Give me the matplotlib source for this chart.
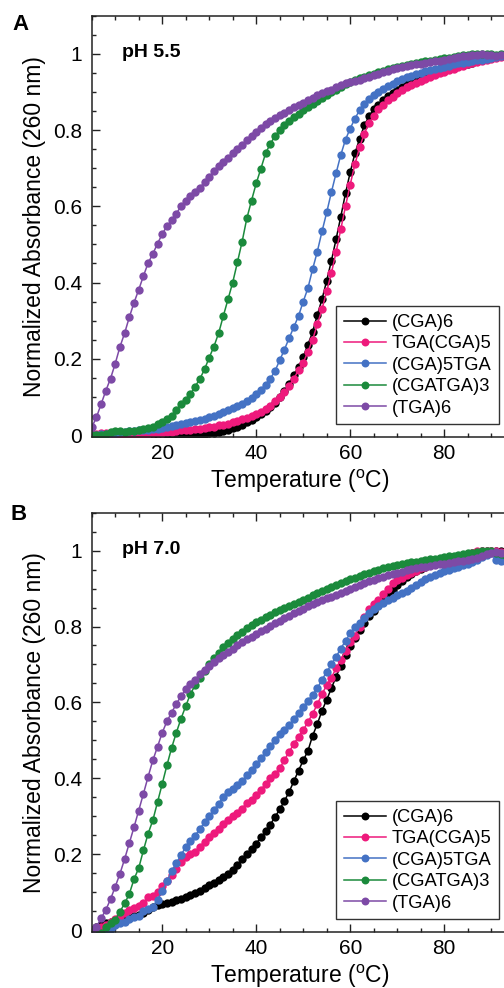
import numpy as np
import matplotlib
matplotlib.use("Agg")
import matplotlib.pyplot as plt
from matplotlib.ticker import MultipleLocator, FuncFormatter

plt.rcParams['font.family'] = ['Liberation Sans', 'DejaVu Sans']
plt.rcParams['mathtext.fontset'] = 'custom'
plt.rcParams['mathtext.rm'] = 'Liberation Sans'

nan = np.nan

# Temperatures (deg C), one reading per degree
temps = list(range(5, 96))

series_names = ["(CGA)6", "TGA(CGA)5", "(CGA)5TGA", "(CGATGA)3", "(TGA)6"]
series_colors = ["#000000", "#ee1a7c", "#4472c4", "#1b8a3c", "#7d4aa6"]
panel_letters = ["A", "B"]
panel_titles = ["pH 5.5", "pH 7.0"]
x_ticks = [20, 40, 60, 80]
y_ticks = [0, 0.2, 0.4, 0.6, 0.8, 1.0]

# ---- pH 5.5 ----
a_cga6 = [nan, nan, nan, nan, nan, nan, nan, nan, nan, nan,
          -0.002, -0.003, -0.004, -0.004, -0.004, -0.004, -0.004, -0.003, -0.003, -0.002,
          -0.001, 0.0, 0.001, 0.002, 0.003, 0.004, 0.006, 0.008, 0.011, 0.014,
          0.018, 0.022, 0.027, 0.033, 0.039, 0.046, 0.054, 0.063, 0.073, 0.085,
          0.100, 0.116, 0.135, 0.158, 0.178, 0.205, 0.237, 0.270, 0.315, 0.356,
          0.405, 0.457, 0.514, 0.573, 0.634, 0.689, 0.739, 0.777, 0.812, 0.836,
          0.854, 0.867, 0.879, 0.889, 0.898, 0.906, 0.913, 0.920, 0.926, 0.932,
          0.937, 0.942, 0.946, 0.950, 0.954, 0.958, 0.962, 0.965, 0.968, 0.971,
          0.974, 0.977, 0.980, 0.983, 0.986, 0.989, 0.992, 0.994, 0.996, 0.998,
          1.0]
a_tga_cga5 = [0.002, 0.003, 0.004, 0.004, 0.003, 0.002, 0.001, 0.0, 0.0, 0.0,
              0.001, 0.002, 0.003, 0.004, 0.005, 0.006, 0.008, 0.009, 0.011, 0.012,
              0.013, 0.014, 0.015, 0.016, 0.018, 0.020, 0.022, 0.025, 0.027, 0.030,
              0.033, 0.037, 0.041, 0.045, 0.049, 0.054, 0.060, 0.068, 0.077, 0.088,
              0.100, 0.112, 0.128, 0.148, 0.170, 0.190, 0.218, 0.250, 0.290, 0.330,
              0.377, 0.425, 0.480, 0.540, 0.600, 0.657, 0.710, 0.755, 0.790, 0.818,
              0.838, 0.854, 0.867, 0.878, 0.888, 0.897, 0.905, 0.912, 0.918, 0.924,
              0.930, 0.935, 0.940, 0.945, 0.949, 0.953, 0.957, 0.961, 0.965, 0.968,
              0.972, 0.975, 0.978, 0.981, 0.984, 0.987, 0.990, 0.992, 0.995, 0.997,
              1.0]
a_cga5_tga = [0.0, 0.0, 0.002, 0.003, 0.005, 0.006, 0.008, 0.009, 0.010, 0.011,
              0.012, 0.013, 0.014, 0.015, 0.017, 0.019, 0.021, 0.023, 0.025, 0.028,
              0.031, 0.034, 0.037, 0.040, 0.043, 0.047, 0.051, 0.056, 0.060, 0.065,
              0.070, 0.075, 0.081, 0.088, 0.097, 0.108, 0.119, 0.132, 0.148, 0.168,
              0.196, 0.224, 0.254, 0.283, 0.312, 0.350, 0.385, 0.435, 0.481, 0.534,
              0.584, 0.637, 0.687, 0.735, 0.775, 0.804, 0.830, 0.852, 0.868, 0.881,
              0.892, 0.901, 0.909, 0.916, 0.922, 0.928, 0.933, 0.938, 0.942, 0.946,
              0.950, 0.954, 0.957, 0.960, 0.963, 0.966, 0.969, 0.972, 0.975, 0.977,
              0.979, 0.981, 0.983, 0.985, 0.987, 0.989, 0.991, 0.993, 0.995, 0.997,
              0.999]
a_cgatga3 = [0.0, 0.0, 0.0, 0.002, 0.008, 0.010, 0.010, 0.009, 0.010, 0.010,
             0.012, 0.015, 0.018, 0.022, 0.028, 0.034, 0.041, 0.051, 0.066, 0.081,
             0.092, 0.107, 0.127, 0.147, 0.172, 0.203, 0.232, 0.267, 0.312, 0.356,
             0.400, 0.453, 0.507, 0.568, 0.615, 0.660, 0.699, 0.739, 0.764, 0.784,
             0.800, 0.812, 0.823, 0.833, 0.843, 0.852, 0.860, 0.868, 0.876, 0.884,
             0.892, 0.899, 0.906, 0.913, 0.920, 0.926, 0.931, 0.936, 0.940, 0.944,
             0.948, 0.952, 0.956, 0.960, 0.963, 0.966, 0.969, 0.971, 0.974, 0.976,
             0.978, 0.980, 0.982, 0.984, 0.986, 0.988, 0.990, 0.992, 0.994, 0.996,
             0.998, 0.999, 1.0, 1.0, 0.999, 0.999, 0.998, 0.999, 1.0, 1.0,
             1.0]
a_tga6 = [0.020, 0.046, 0.081, 0.116, 0.148, 0.187, 0.231, 0.267, 0.309, 0.347,
          0.381, 0.417, 0.451, 0.475, 0.502, 0.527, 0.548, 0.563, 0.581, 0.600,
          0.614, 0.626, 0.637, 0.648, 0.664, 0.678, 0.692, 0.706, 0.716, 0.728,
          0.740, 0.750, 0.760, 0.774, 0.784, 0.795, 0.806, 0.815, 0.825, 0.832,
          0.839, 0.846, 0.853, 0.860, 0.866, 0.872, 0.878, 0.885, 0.892, 0.898,
          0.902, 0.906, 0.912, 0.918, 0.923, 0.926, 0.929, 0.932, 0.936, 0.940,
          0.944, 0.948, 0.952, 0.956, 0.959, 0.962, 0.965, 0.967, 0.970, 0.972,
          0.974, 0.976, 0.978, 0.980, 0.982, 0.984, 0.987, 0.989, 0.991, 0.993,
          0.995, 0.997, 0.998, 0.999, 0.997, 0.996, 0.995, 0.996, 0.998, 0.999,
          1.0]

# ---- pH 7.0 ----
b_cga6 = [0.0, 0.008, 0.012, 0.018, 0.022, 0.025, 0.027, 0.029, 0.032, 0.036,
          0.040, 0.046, 0.052, 0.060, 0.065, 0.068, 0.071, 0.074, 0.078, 0.082,
          0.087, 0.092, 0.098, 0.104, 0.111, 0.118, 0.125, 0.132, 0.139, 0.147,
          0.157, 0.172, 0.188, 0.200, 0.213, 0.228, 0.244, 0.260, 0.278, 0.298,
          0.318, 0.340, 0.364, 0.392, 0.420, 0.447, 0.472, 0.512, 0.543, 0.578,
          0.607, 0.637, 0.668, 0.697, 0.725, 0.748, 0.770, 0.790, 0.810, 0.828,
          0.842, 0.856, 0.868, 0.882, 0.896, 0.910, 0.920, 0.930, 0.938, 0.946,
          0.952, 0.957, 0.962, 0.966, 0.970, 0.974, 0.978, 0.981, 0.984, 0.987,
          0.990, 0.993, 0.996, 0.998, 1.0, 1.0, 0.999, 0.998, 0.997, 0.997,
          0.997]
b_tga_cga5 = [0.0, 0.003, 0.008, 0.012, 0.020, 0.028, 0.036, 0.045, 0.052, 0.058,
              0.064, 0.072, 0.086, 0.090, 0.100, 0.117, 0.128, 0.145, 0.160, 0.180,
              0.193, 0.200, 0.206, 0.220, 0.233, 0.244, 0.256, 0.266, 0.280, 0.291,
              0.300, 0.308, 0.320, 0.336, 0.342, 0.356, 0.370, 0.385, 0.402, 0.412,
              0.426, 0.448, 0.470, 0.490, 0.510, 0.527, 0.548, 0.570, 0.595, 0.622,
              0.645, 0.665, 0.690, 0.712, 0.735, 0.758, 0.776, 0.800, 0.825, 0.845,
              0.860, 0.870, 0.885, 0.900, 0.914, 0.922, 0.929, 0.935, 0.941, 0.947,
              0.953, 0.958, 0.962, 0.966, 0.969, 0.972, 0.975, 0.978, 0.982, 0.986,
              0.990, 0.994, 0.998, 1.0, 1.0, 0.999, 0.998, 0.997, 0.997, 0.997,
              0.997]
b_cga5_tga = [0.0, -0.010, -0.013, -0.010, 0.004, 0.013, 0.018, 0.022, 0.029, 0.034,
              0.036, 0.050, 0.055, 0.062, 0.080, 0.102, 0.128, 0.155, 0.176, 0.198,
              0.218, 0.234, 0.249, 0.266, 0.284, 0.300, 0.316, 0.333, 0.350, 0.364,
              0.373, 0.382, 0.392, 0.408, 0.422, 0.438, 0.453, 0.468, 0.484, 0.502,
              0.518, 0.528, 0.540, 0.556, 0.572, 0.588, 0.604, 0.620, 0.637, 0.660,
              0.680, 0.700, 0.720, 0.742, 0.762, 0.782, 0.798, 0.810, 0.822, 0.836,
              0.846, 0.854, 0.862, 0.870, 0.876, 0.882, 0.888, 0.894, 0.902, 0.910,
              0.918, 0.925, 0.931, 0.937, 0.942, 0.946, 0.950, 0.954, 0.958, 0.962,
              0.966, 0.970, 0.976, 0.982, 0.988, 0.993, 0.975, 0.972, 0.973, 0.974,
              0.975]
b_cgatga3 = [0.0, -0.008, -0.007, 0.007, 0.018, 0.026, 0.048, 0.070, 0.095, 0.134,
             0.163, 0.210, 0.254, 0.289, 0.337, 0.385, 0.434, 0.480, 0.520, 0.557,
             0.590, 0.622, 0.645, 0.665, 0.683, 0.702, 0.717, 0.731, 0.745, 0.756,
             0.767, 0.777, 0.786, 0.795, 0.803, 0.811, 0.818, 0.825, 0.831, 0.837,
             0.843, 0.849, 0.855, 0.860, 0.865, 0.870, 0.876, 0.882, 0.888, 0.894,
             0.899, 0.904, 0.909, 0.914, 0.919, 0.924, 0.929, 0.934, 0.938, 0.942,
             0.946, 0.950, 0.953, 0.956, 0.959, 0.962, 0.965, 0.967, 0.969, 0.971,
             0.973, 0.975, 0.977, 0.979, 0.981, 0.983, 0.985, 0.987, 0.989, 0.991,
             0.993, 0.995, 0.997, 0.999, 1.0, 1.0, 0.995, 0.990, 0.988, 0.990,
             0.990]
b_tga6 = [0.0, 0.008, 0.031, 0.053, 0.081, 0.114, 0.148, 0.187, 0.229, 0.271,
          0.315, 0.359, 0.404, 0.447, 0.483, 0.520, 0.550, 0.573, 0.596, 0.616,
          0.634, 0.648, 0.660, 0.674, 0.686, 0.697, 0.707, 0.716, 0.725, 0.734,
          0.742, 0.750, 0.758, 0.766, 0.773, 0.780, 0.787, 0.794, 0.801, 0.808,
          0.815, 0.822, 0.829, 0.835, 0.841, 0.847, 0.853, 0.859, 0.864, 0.869,
          0.874, 0.879, 0.884, 0.889, 0.894, 0.899, 0.904, 0.909, 0.914, 0.919,
          0.923, 0.927, 0.931, 0.935, 0.939, 0.942, 0.945, 0.948, 0.951, 0.954,
          0.956, 0.958, 0.960, 0.962, 0.964, 0.966, 0.968, 0.970, 0.972, 0.974,
          0.976, 0.978, 0.981, 0.985, 0.990, 0.995, 0.997, 0.995, 0.993, 0.992,
          0.992]

panels = [
    [a_cga6, a_tga_cga5, a_cga5_tga, a_cgatga3, a_tga6],
    [b_cga6, b_tga_cga5, b_cga5_tga, b_cgatga3, b_tga6],
]

W, H = 504, 988
fig = plt.figure(figsize=(W / 100, H / 100), dpi=100)

# axes boxes in pixels: (left, top, right, bottom)
boxes = [(91.7, 15.7, 514.7, 437.3), (91.7, 512.7, 514.7, 932.3)]
letter_pos = [(12, 24.5), (11, 515)]

for i, (box, series) in enumerate(zip(boxes, panels)):
    l, t, r, b = box
    ax = fig.add_axes([l / W, 1 - b / H, (r - l) / W, (b - t) / H])
    for vals, name, col in zip(series, series_names, series_colors):
        ax.plot(temps, vals, '-o', color=col, lw=1.1, ms=6.0, mew=0,
                label=name, clip_on=True)
    ax.set_xlim(5, 95)
    ax.set_ylim(-0.006, 1.1)
    ax.set_xticks(x_ticks)
    ax.set_yticks(y_ticks)
    ax.xaxis.set_minor_locator(MultipleLocator(5))
    ax.yaxis.set_minor_locator(MultipleLocator(0.05))
    ax.yaxis.set_major_formatter(FuncFormatter(lambda v, p: "%g" % round(v, 2)))
    ax.tick_params(which='both', direction='in', top=True, right=False,
                   bottom=True, left=True, color='#222222', width=1.0)
    ax.tick_params(which='major', length=5.5, labelsize=15)
    ax.tick_params(which='minor', length=3)
    ax.tick_params(axis='x', pad=5)
    ax.tick_params(axis='y', pad=7)
    for s in ax.spines.values():
        s.set_linewidth(1.1)
        s.set_color('#222222')
    ax.set_xlabel('Temperature ($^{\\mathrm{o}}$C)', fontsize=16.5)
    ax.set_ylabel('Normalized Absorbance (260 nm)', fontsize=16.5)
    ax.xaxis.set_label_coords(0.4925, -0.072)
    ax.yaxis.set_label_coords(-0.108, 0.5)
    ax.text(0.0716, 0.913, panel_titles[i], transform=ax.transAxes,
            fontsize=14, fontweight='bold', ha='left', va='center')
    leg = ax.legend(loc='lower left', bbox_to_anchor=(0.578, 0.031),
                    fontsize=13.2, frameon=True, fancybox=False,
                    edgecolor='#333333', framealpha=1, handlelength=2.3,
                    handletextpad=0.3, labelspacing=0.24, borderpad=0.42,
                    borderaxespad=0, markerscale=0.95)
    leg.get_frame().set_linewidth(1.0)
    lx, ly = letter_pos[i]
    fig.text(lx / W, 1 - ly / H, panel_letters[i], fontsize=16,
             fontweight='bold', ha='left', va='center')

fig.savefig('out.png', dpi=100)
